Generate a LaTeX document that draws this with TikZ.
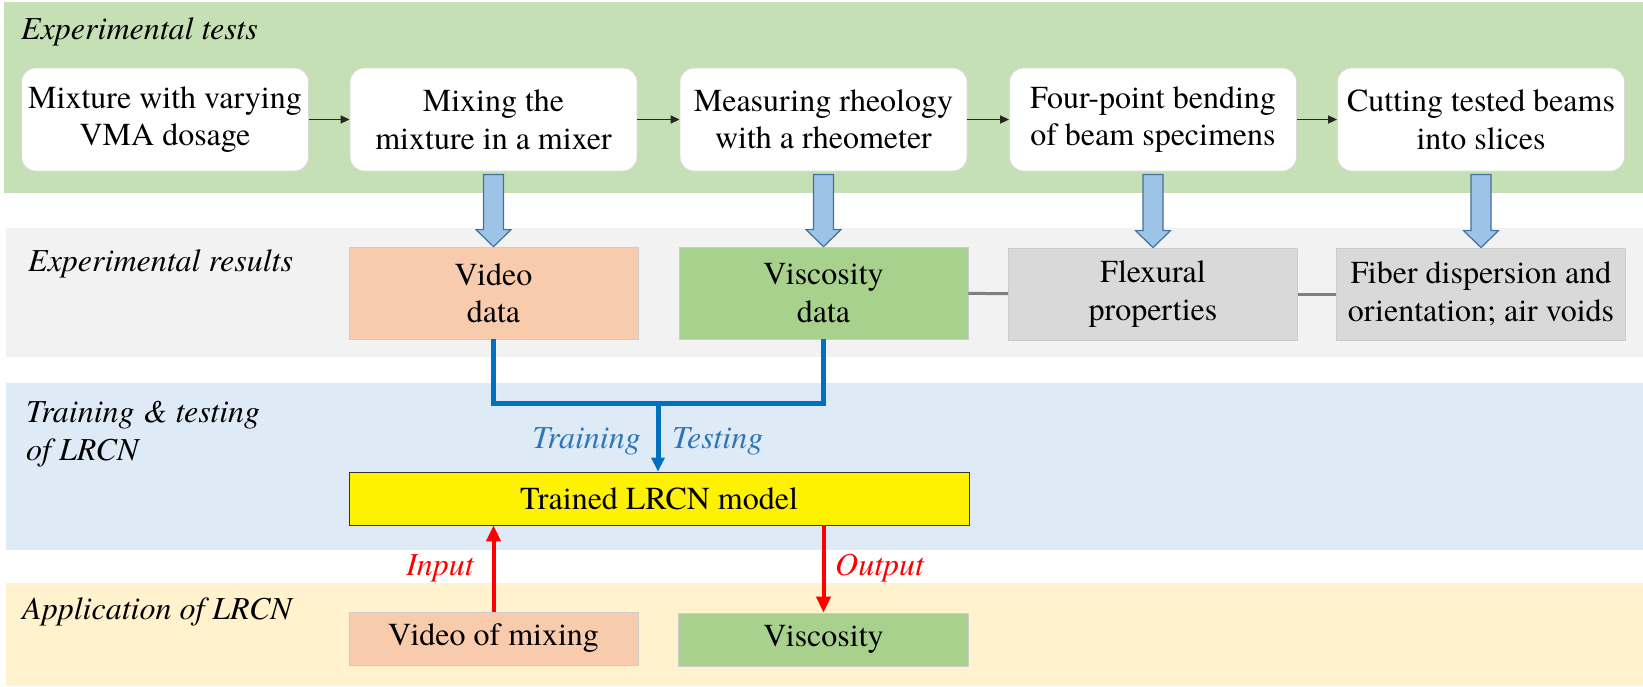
\documentclass[tikz,border=0pt]{standalone}
\usepackage{fontspec}
\setmainfont{texgyretermes}[Extension=.otf,UprightFont=*-regular,ItalicFont=*-italic,BoldFont=*-bold,BoldItalicFont=*-bolditalic]
\usetikzlibrary{calc,arrows.meta}

\definecolor{bandgreen}{HTML}{C5E0B4}
\definecolor{bandgray}{HTML}{F2F2F2}
\definecolor{bandblue}{HTML}{DEEBF7}
\definecolor{bandcream}{HTML}{FFF2CC}
\definecolor{peach}{HTML}{F8CBAD}
\definecolor{leaf}{HTML}{A9D18E}
\definecolor{stone}{HTML}{D9D9D9}
\definecolor{arrowfill}{HTML}{9DC3E6}
\definecolor{arrowedge}{HTML}{41719C}
\definecolor{flowblue}{HTML}{0070C0}
\definecolor{labelblue}{HTML}{2E75B6}

\newcommand\fatdown[2]{%
  \draw[fatarrow] ($(#1.south)+(-10,3)$) -- ($(#1.south)+(10,3)$)
    -- ($(#2.north)+(10,-17)$) -- ($(#2.north)+(17.5,-17)$) -- (#2.north)
    -- ($(#2.north)+(-17.5,-17)$) -- ($(#2.north)+(-10,-17)$) -- cycle;}

\begin{document}
\begin{tikzpicture}[x=1pt,y=-1pt,
  font=\fontsize{32}{37.5}\selectfont,
  stagetitle/.style={anchor=base west,inner sep=0pt,font=\fontsize{32}{37.5}\selectfont\itshape,align=left},
  testbox/.style={rounded corners=14pt,fill=white,draw=black!15,line width=0.8pt,
    minimum width=287pt,minimum height=103pt,align=center,inner sep=0pt},
  resbox/.style={draw=black!20,line width=0.8pt,minimum width=289pt,minimum height=92pt,
    align=center,inner sep=0pt},
  slimbox/.style={draw=black!20,line width=0.8pt,minimum height=53pt,align=center,inner sep=0pt},
  flow/.style={draw=black!85,line width=1.6pt,-{Triangle[length=9pt,width=8pt]}},
  fatarrow/.style={fill=arrowfill,draw=arrowedge,line width=1.2pt,line join=miter},
  link/.style={draw=black!50,line width=3pt},
  bluepath/.style={draw=flowblue,line width=5pt},
  redarrow/.style={draw=red,line width=4pt,-{Triangle[length=16pt,width=14pt]}},
]
\useasboundingbox (0,0) rectangle (1643,686);

% background bands
\fill[bandgreen] (4,2) rectangle (1643,193);
\fill[bandgray] (6,228) rectangle (1643,357);
\fill[bandblue] (6,383) rectangle (1643,550);
\fill[bandcream] (6,583) rectangle (1643,686);

% stage titles
\node[stagetitle] (t1) at (21,39) {Experimental tests};
\node[stagetitle] (t2) at (28,271) {Experimental results};
\node[stagetitle] (t3) at (26,460) {Training \& testing\\of LRCN};
\node[stagetitle] (t4) at (22,619) {Application of LRCN};

% experimental tests
\node[testbox] (b1) at (165,119.5) {Mixture with varying\\VMA dosage};
\node[testbox] (b2) at (493.5,119.5) {Mixing the\\mixture in a mixer};
\node[testbox] (b3) at (823.5,119.5) {Measuring rheology\\with a rheometer};
\node[testbox] (b4) at (1153,119.5) {Four-point bending\\of beam specimens};
\node[testbox] (b5) at (1481,119.5) {Cutting tested beams\\into slices};

\draw[flow] (b1) -- (b2);
\draw[flow] (b2) -- (b3);
\draw[flow] (b3) -- (b4);
\draw[flow] (b4) -- (b5);

% experimental results
\node[resbox,fill=peach] (r1) at (493.5,293) {Video\\data};
\node[resbox,fill=leaf] (r2) at (823.5,293) {Viscosity\\data};
\node[resbox,fill=stone] (r3) at (1153,294) {Flexural\\properties};
\node[resbox,fill=stone] (r4) at (1481,294) {Fiber dispersion and\\orientation; air voids};

\fatdown{b2}{r1}
\fatdown{b3}{r2}
\fatdown{b4}{r3}
\fatdown{b5}{r4}

\draw[link] (r2) -- (r3);
\draw[link] (r3) -- (r4);

% training and testing
\node[slimbox,draw=black!80,fill=yellow,minimum width=620pt] (m) at (659,498.5) {Trained LRCN model};
\coordinate (j) at (658,403);
\draw[bluepath] (r1.south) |- (j) -| (r2.south);
\draw[bluepath,-{Triangle[length=14pt,width=13pt]}] (j) -- (j |- m.north);
\node[anchor=base east,inner sep=0pt,text=labelblue,font=\fontsize{32}{37.5}\selectfont\itshape] (ltr) at (641,448) {Training};
\node[anchor=base west,inner sep=0pt,text=labelblue,font=\fontsize{32}{37.5}\selectfont\itshape] (lte) at (672,448) {Testing};

% application
\node[slimbox,fill=peach,minimum width=289pt] (a1) at (493.5,638.5) {Video of mixing};
\node[slimbox,fill=leaf,minimum width=290pt] (a2) at (823.5,639.5) {Viscosity};

\draw[redarrow] (a1.north) -- (a1.north |- m.south);
\draw[redarrow] (m.south -| a2.north) -- (a2.north);
\node[anchor=base east,inner sep=0pt,text=red,font=\fontsize{32}{37.5}\selectfont\itshape] (lin) at (474,575) {Input};
\node[anchor=base west,inner sep=0pt,text=red,font=\fontsize{32}{37.5}\selectfont\itshape] (lout) at (835,575) {Output};
\end{tikzpicture}
\end{document}
